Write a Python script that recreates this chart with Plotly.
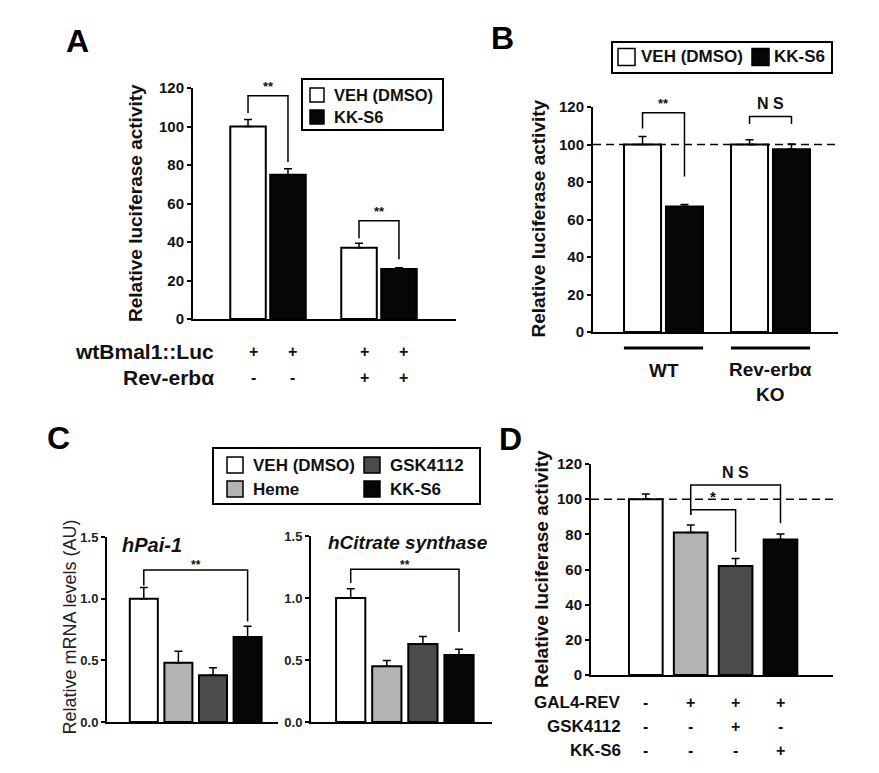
import plotly.graph_objects as go

W, H = 879, 773
OFF_X, OFF_Y = 8, 8  # page body margin in the viewer
FONT = "Liberation Sans, Arial, sans-serif"
INK = "#111111"

# ---------------- data ----------------
# Panel A
a_series = ["VEH (DMSO)", "KK-S6"]
a_veh = [100, 37]
a_veh_err = [3.7, 2.4]
a_kk = [75, 26]
a_kk_err = [3.0, 0.6]
a_row_labels = ["wtBmal1::Luc", "Rev-erbα"]
a_row_signs = [["+", "+", "+", "+"], ["-", "-", "+", "+"]]

# Panel B
b_groups = ["WT", "Rev-erbα<br>KO"]
b_veh = [100, 100]
b_veh_err = [4.3, 2.5]
b_kk = [67, 97.5]
b_kk_err = [1.0, 2.8]

# Panel C
c_treat = ["VEH (DMSO)", "Heme", "GSK4112", "KK-S6"]
c_titles = ["hPai-1", "hCitrate synthase"]
c_pai = [1.0, 0.48, 0.38, 0.69]
c_pai_err = [0.09, 0.094, 0.06, 0.086]
c_cs = [1.0, 0.45, 0.63, 0.54]
c_cs_err = [0.075, 0.045, 0.06, 0.047]

# Panel D
d_vals = [100, 81, 62, 77]
d_err = [3.0, 4.3, 4.2, 3.2]
d_row_labels = ["GAL4-REV", "GSK4112", "KK-S6"]
d_row_signs = [["-", "+", "+", "+"], ["-", "-", "+", "-"], ["-", "-", "-", "+"]]

COLORS = {"VEH (DMSO)": "#ffffff", "Heme": "#b3b3b3", "GSK4112": "#4b4b4b", "KK-S6": "#060606"}


def px(x):
    return (x - OFF_X) / W


def py(y):
    return 1 - (y - OFF_Y) / H


def err(arr):
    return dict(type="data", symmetric=False, array=arr, arrayminus=[0] * len(arr),
                color="black", thickness=1.5, width=4, visible=True)


fig = go.Figure()

# ---------------- panel geometry (pixels) ----------------
geo = {
    "A": dict(i=1, x=(193, 456), y=(88, 319), yr=(0, 120), c0=268, unit=111),
    "B": dict(i=2, x=(593, 838), y=(107, 332), yr=(0, 120), c0=663.5, unit=107),
    "C1": dict(i=3, x=(107, 278), y=(537, 722), yr=(0, 1.5), c0=143.8, unit=34.6),
    "C2": dict(i=4, x=(311, 492), y=(536, 722), yr=(0, 1.5), c0=350.7, unit=36.1),
    "D": dict(i=5, x=(591, 833), y=(464, 675), yr=(0, 120), c0=645.8, unit=44.9),
}


def axn(i):
    return ("x" if i == 1 else f"x{i}"), ("y" if i == 1 else f"y{i}")


layout_axes = {}
for k, g in geo.items():
    i = g["i"]
    xr = [(g["x"][0] - g["c0"]) / g["unit"], (g["x"][1] - g["c0"]) / g["unit"]]
    xname = "xaxis" if i == 1 else f"xaxis{i}"
    yname = "yaxis" if i == 1 else f"yaxis{i}"
    xa, ya = axn(i)
    layout_axes[xname] = dict(domain=[px(g["x"][0]), px(g["x"][1])], range=xr, anchor=ya,
                              showline=True, linecolor="black", linewidth=2, showgrid=False,
                              zeroline=False, showticklabels=False, ticks="", fixedrange=True)
    if g["yr"][1] == 120:
        tv = list(range(0, 121, 20))
        tt = [str(v) for v in tv]
        tf = dict(family=FONT, size=15, color=INK, weight="bold")
    else:
        tv = [0, 0.5, 1.0, 1.5]
        tt = ["0.0", "0.5", "1.0", "1.5"]
        tf = dict(family=FONT, size=13, color="#222222", weight="bold")
    layout_axes[yname] = dict(domain=[py(g["y"][1]), py(g["y"][0])], range=list(g["yr"]), anchor=xa,
                              showline=True, linecolor="black", linewidth=2, showgrid=False,
                              zeroline=False, ticks="outside", ticklen=4, tickwidth=1.5,
                              tickcolor="black", tickvals=tv, ticktext=tt, tickfont=tf,
                              fixedrange=True)

bar_line = dict(color="black", width=2)

# ---------------- Panel A ----------------
a_w, a_off = 0.32, (-0.34, 0.02)
for s, vals, e, off in [(a_series[0], a_veh, a_veh_err, a_off[0]), (a_series[1], a_kk, a_kk_err, a_off[1])]:
    fig.add_trace(go.Bar(x=list(range(len(vals))), y=vals, width=a_w, offset=off,
                         marker=dict(color=COLORS[s], line=bar_line), error_y=err(e),
                         name=s, xaxis="x", yaxis="y", hoverinfo="skip"))
a_centers = []
for gi in range(2):
    a_centers += [gi + a_off[0] + a_w / 2, gi + a_off[1] + a_w / 2]

# ---------------- Panel B ----------------
b_w, b_off = 0.346, (-0.369, 0.023)
for s, vals, e, off in [(a_series[0], b_veh, b_veh_err, b_off[0]), (a_series[1], b_kk, b_kk_err, b_off[1])]:
    fig.add_trace(go.Bar(x=list(range(len(vals))), y=vals, width=b_w, offset=off,
                         marker=dict(color=COLORS[s], line=bar_line), error_y=err(e),
                         name=s, xaxis="x2", yaxis="y2", hoverinfo="skip"))
b_centers = []
for gi in range(2):
    b_centers += [gi + b_off[0] + b_w / 2, gi + b_off[1] + b_w / 2]

# ---------------- Panel C ----------------
for ci, (vals, errs) in enumerate([(c_pai, c_pai_err), (c_cs, c_cs_err)]):
    xa, ya = axn(3 + ci)
    for j, t in enumerate(c_treat):
        fig.add_trace(go.Bar(x=[j], y=[vals[j]], width=0.81,
                             marker=dict(color=COLORS[t], line=bar_line), error_y=err([errs[j]]),
                             name=t, xaxis=xa, yaxis=ya, hoverinfo="skip"))

# ---------------- Panel D ----------------
fig.add_trace(go.Bar(x=list(range(4)), y=d_vals, width=0.75,
                     marker=dict(color=[COLORS[t] for t in c_treat], line=bar_line),
                     error_y=err(d_err), name="GAL4-REV", xaxis="x5", yaxis="y5", hoverinfo="skip"))

# ---------------- decorations ----------------
shapes, ann = [], []


def bracket(xa, ya, xl, xr, top, bl, br):
    shapes.append(dict(type="path", xref=xa, yref=ya,
                       path=f"M {xl},{bl} L {xl},{top} L {xr},{top} L {xr},{br}",
                       line=dict(color="black", width=1.5)))


def txt(text, x, y, size, xref="paper", yref="paper", xanchor="center", yanchor="middle",
        angle=0, xshift=0, yshift=0, bold=True, color=INK):
    t = f"<b>{text}</b>" if bold else text
    ann.append(dict(text=t, x=x, y=y, xref=xref, yref=yref, xanchor=xanchor, yanchor=yanchor,
                    textangle=angle, showarrow=False, xshift=xshift, yshift=yshift,
                    font=dict(family=FONT, size=size, color=color)))


def legend_box(x0, y0, x1, y1):
    shapes.append(dict(type="rect", xref="paper", yref="paper", x0=px(x0), x1=px(x1),
                       y0=py(y1), y1=py(y0), line=dict(color="black", width=2),
                       fillcolor="white", layer="below"))


def legend_item(xs, yc, size, label, xt, fsize):
    shapes.append(dict(type="rect", xref="paper", yref="paper", x0=px(xs), x1=px(xs + size),
                       y0=py(yc + size / 2), y1=py(yc - size / 2),
                       line=dict(color="black", width=1.5), fillcolor=COLORS[label]))
    txt(label, px(xt), py(yc), fsize, xanchor="left")


# legends
legend_box(302, 79, 443, 130)
legend_item(310, 95, 14, a_series[0], 332, 16.5)
legend_item(310, 117, 14, a_series[1], 332, 16.5)

legend_box(612, 42, 832, 73)
legend_item(618, 57, 17, a_series[0], 639, 17)
legend_item(752, 57, 17, a_series[1], 772, 17)

legend_box(213, 448, 480, 504)
legend_item(227, 465, 16, c_treat[0], 251, 17)
legend_item(227, 489, 16, c_treat[1], 251, 17)
legend_item(364, 465, 16, c_treat[2], 388, 17)
legend_item(364, 489, 16, c_treat[3], 388, 17)

# A brackets
bracket("x", "y", a_centers[0], a_centers[1], 116, 107, 81.5)
bracket("x", "y", a_centers[2], a_centers[3], 51, 42, 31)
txt("**", (a_centers[0] + a_centers[1]) / 2, 116, 13, "x", "y", yanchor="bottom")
txt("**", (a_centers[2] + a_centers[3]) / 2, 51, 13, "x", "y", yanchor="bottom")

# B brackets and dashed reference
bracket("x2", "y2", b_centers[0], b_centers[1], 117, 108.6, 83)
bracket("x2", "y2", b_centers[2], b_centers[3], 115, 111, 111)
txt("**", (b_centers[0] + b_centers[1]) / 2, 117, 13, "x2", "y2", yanchor="bottom")
txt("N S", (b_centers[2] + b_centers[3]) / 2, 115, 16, "x2", "y2", yanchor="bottom", yshift=2)
shapes.append(dict(type="line", xref="x2 domain", yref="y2", x0=0, x1=1, y0=100, y1=100,
                   line=dict(color="black", width=1.5, dash="8px,5px")))
for gi in range(2):
    shapes.append(dict(type="line", xref="x2", yref="paper", x0=gi - 0.37, x1=gi + 0.37,
                       y0=py(348), y1=py(348), line=dict(color="black", width=3)))
txt(b_groups[0], 0, py(370), 19, "x2", "paper")
txt(b_groups[1], 1, py(382), 19, "x2", "paper")

# C brackets and titles
bracket("x3", "y3", 0, 3, 1.232, 1.107, 0.814)
bracket("x4", "y4", 0, 3, 1.232, 1.12, 0.726)
txt("**", 1.5, py(565), 12, "x3", "paper")
txt("**", 1.5, py(565), 12, "x4", "paper")
txt(f"<i>{c_titles[0]}</i>", px(120), py(545), 20, xanchor="left")
txt(f"<i>{c_titles[1]}</i>", px(326), py(542), 19, xanchor="left")

# D brackets and dashed reference
shapes.append(dict(type="line", xref="x5 domain", yref="y5", x0=0, x1=1, y0=100, y1=100,
                   line=dict(color="black", width=1.5, dash="8px,5px")))
bracket("x5", "y5", 1, 3, 108, 91, 86.3)
bracket("x5", "y5", 1, 2, 94, 91, 70)
txt("N S", 2, 108, 16, "x5", "y5", yanchor="bottom", yshift=2)
txt("*", 1.5, 94, 15, "x5", "y5", yanchor="bottom", yshift=3)

# rows of +/- under A
for r, (lab, signs) in enumerate(zip(a_row_labels, a_row_signs)):
    yy = py(351 + 27 * r)
    txt(lab, px(216), yy, 21, xanchor="right")
    for c, s in zip(a_centers, signs):
        txt(s, c, yy, 16, "x", "paper", xshift=5)

# rows of +/- under D
for r, (lab, signs) in enumerate(zip(d_row_labels, d_row_signs)):
    yy = py(702 + 24 * r)
    txt(lab, px(623), yy, 17, xanchor="right")
    for c, s in enumerate(signs):
        txt(s, c, yy, 16, "x5", "paper")

# y-axis titles
txt("Relative luciferase activity", px(135), py(203), 19, angle=-90)
txt("Relative luciferase activity", px(538.5), py(219), 19, angle=-90)
txt("Relative luciferase activity", px(541), py(569), 19, angle=-90)
txt("Relative mRNA levels (AU)", px(69.5), py(627), 18, angle=-90, bold=False, color="#222222")

# panel letters
for L, (x, y) in {"A": (77, 41), "B": (502, 38), "C": (58, 438), "D": (510, 439)}.items():
    txt(L, px(x), py(y), 32, color="#000000")

fig.update_layout(
    width=W, height=H, margin=dict(l=0, r=0, t=0, b=0, autoexpand=False),
    paper_bgcolor="white", plot_bgcolor="rgba(0,0,0,0)",
    barmode="overlay", showlegend=False,
    shapes=shapes, annotations=ann,
    **layout_axes,
)

fig.write_html("out.html")
